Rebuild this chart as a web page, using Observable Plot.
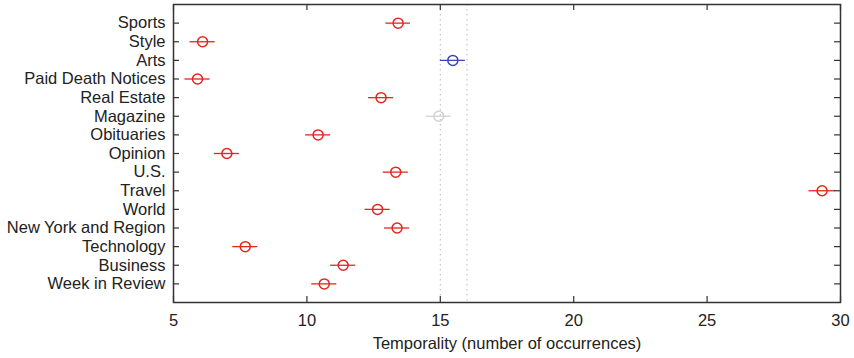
<!DOCTYPE html>
<html><head><meta charset="utf-8">
<script src="https://cdn.jsdelivr.net/npm/d3@7"></script>
<script src="https://cdn.jsdelivr.net/npm/@observablehq/plot@0.6"></script>
<style>body{margin:0;background:#ffffff} svg{font-family:"Liberation Sans",Arial,sans-serif}</style>
</head><body><div id="chart"></div><script>
const categories = ["Sports","Style","Arts","Paid Death Notices","Real Estate","Magazine","Obituaries","Opinion","U.S.","Travel","World","New York and Region","Technology","Business","Week in Review"];
const values = [13.42, 6.09, 15.47, 5.90, 12.78, 14.94, 10.42, 7.00, 13.33, 29.31, 12.65, 13.38, 7.69, 11.36, 10.65];
const errHalf = [0.46, 0.47, 0.47, 0.47, 0.47, 0.47, 0.47, 0.47, 0.47, 0.49, 0.47, 0.47, 0.47, 0.47, 0.47];
const groups = ["main","main","arts","main","main","magazine","main","main","main","main","main","main","main","main","main"];
const refLines = [15, 16];
const xTicks = [5, 10, 15, 20, 25, 30];
const xDomain = [5, 30];
const xLabel = "Temporality (number of occurrences)";

const data = categories.map((c, i) => ({category: c, value: values[i], lo: values[i] - errHalf[i], hi: values[i] + errHalf[i], group: groups[i]}));

const W = 854, H = 358, ML = 173, MR = 14, MT = 4, MB = 56;
const frameW = W - ML - MR, frameH = H - MT - MB, tickLen = 6;
const boxStyle = {stroke: "#333333", strokeWidth: 1.5, strokeOpacity: 1};
const tickStyle = {stroke: "#333333", strokeWidth: 1.2, strokeOpacity: 1};

const chart = Plot.plot({
  width: W, height: H,
  marginLeft: ML, marginRight: MR, marginTop: MT, marginBottom: MB,
  style: {fontSize: "16.5px", fontFamily: "'Liberation Sans', Arial, sans-serif", color: "#222222", background: "#ffffff"},
  x: {domain: xDomain},
  y: {type: "point", domain: categories, padding: 1, round: false},
  color: {domain: ["main", "arts", "magazine"], range: ["#e2271d", "#3b45b1", "#d2d2d2"]},
  marks: [
    Plot.ruleX(refLines, {stroke: "#b8b8b8", strokeDasharray: "1.5,3.5", strokeWidth: 1}),
    Plot.ruleY(data, {y: "category", x1: "lo", x2: "hi", stroke: "group", strokeWidth: 1.3}),
    Plot.dot(data, {x: "value", y: "category", r: 5, stroke: "group", fill: "none", strokeWidth: 1.5}),
    // box around the plot area
    Plot.frame(boxStyle),
    // inward tick marks
    Plot.tickX(xTicks, {x: d => d, insetTop: frameH - tickLen, ...tickStyle}),
    Plot.tickX(xTicks, {x: d => d, insetBottom: frameH - tickLen, ...tickStyle}),
    Plot.tickY(categories, {y: d => d, insetRight: frameW - tickLen, ...tickStyle}),
    Plot.tickY(categories, {y: d => d, insetLeft: frameW - tickLen, ...tickStyle}),
    // tick labels
    Plot.axisX({anchor: "bottom", ticks: xTicks, tickSize: 0, tickPadding: 12, label: xLabel, labelAnchor: "center", labelArrow: "none", labelOffset: 46, fill: "#222222"}),
    Plot.axisY({anchor: "left", tickSize: 0, tickPadding: 8, label: null, fill: "#222222"})
  ]
});
document.getElementById("chart").appendChild(chart);
</script></body></html>
